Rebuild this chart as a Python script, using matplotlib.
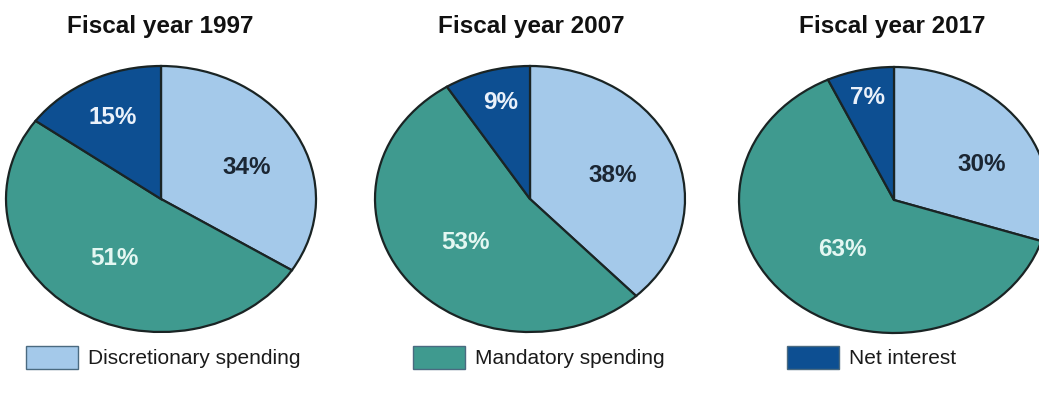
import numpy as np
import matplotlib
matplotlib.use("Agg")
import matplotlib.pyplot as plt
from matplotlib.patches import Rectangle

plt.rcParams['font.family'] = ['Liberation Sans', 'DejaVu Sans']

categories = ["Discretionary spending", "Mandatory spending", "Net interest"]
years = ["Fiscal year 1997", "Fiscal year 2007", "Fiscal year 2017"]
share_1997 = [34, 51, 15]
share_2007 = [38, 53, 9]
share_2017 = [30, 63, 7]
shares = [share_1997, share_2007, share_2017]

colors = ["#a4c9ea", "#3f9a8f", "#0d4f92"]
text_colors = ["#1b2633", "#e4f7f2", "#eaf1fa"]
edge = "#1a2424"

W, H = 1039, 396
fig = plt.figure(figsize=(W / 100, H / 100), dpi=100)

# pixel layout of each pie (center x, center y, radius x, radius y)
centers = [(161, 199), (530, 199), (894, 200)]
rx, ry = 155, 133
label_r = [[0.605, 0.54, 0.69], [0.565, 0.53, 0.75], [0.627, 0.5, 0.79]]
label_dang = [[-5.4, 0, 0], [-3, 0, -1.4], [-11, 0, 0]]
title_x = [160, 531, 892]

for i, (vals, yr) in enumerate(zip(shares, years)):
    cx, cy = centers[i]
    ax = fig.add_axes([(cx - rx) / W, 1 - (cy + ry) / H, 2 * rx / W, 2 * ry / H])
    wedges, _ = ax.pie(vals, colors=colors, startangle=90, counterclock=False,
                       wedgeprops=dict(edgecolor=edge, linewidth=1.6))
    ax.set_aspect('auto')
    ax.set_xlim(-1.0, 1.0)
    ax.set_ylim(-1.0, 1.0)
    ax.set_axis_off()
    for w in wedges:
        w.set_clip_on(False)
    for j, w in enumerate(wedges):
        ang = np.deg2rad((w.theta1 + w.theta2) / 2 + label_dang[i][j])
        r = label_r[i][j]
        ax.text(r * np.cos(ang), r * np.sin(ang), f"{vals[j]}%",
                ha='center', va='center', fontsize=17.5, fontweight='bold',
                color=text_colors[j])
    fig.text(title_x[i] / W, 1 - 26 / H, yr, ha='center', va='center',
             fontsize=17.5, fontweight='bold', color='#111111')

# legend
leg_x = [26, 413, 787]
for k, cat in enumerate(categories):
    fig.patches.append(Rectangle((leg_x[k] / W, 1 - 369 / H), 52 / W, 23 / H,
                                 transform=fig.transFigure, facecolor=colors[k],
                                 edgecolor="#4a6a80", linewidth=1.0))
    fig.text((leg_x[k] + 62) / W, 1 - 358 / H, cat, ha='left', va='center',
             fontsize=15, color='#1a1a1a')

fig.savefig("out.png", dpi=100)
